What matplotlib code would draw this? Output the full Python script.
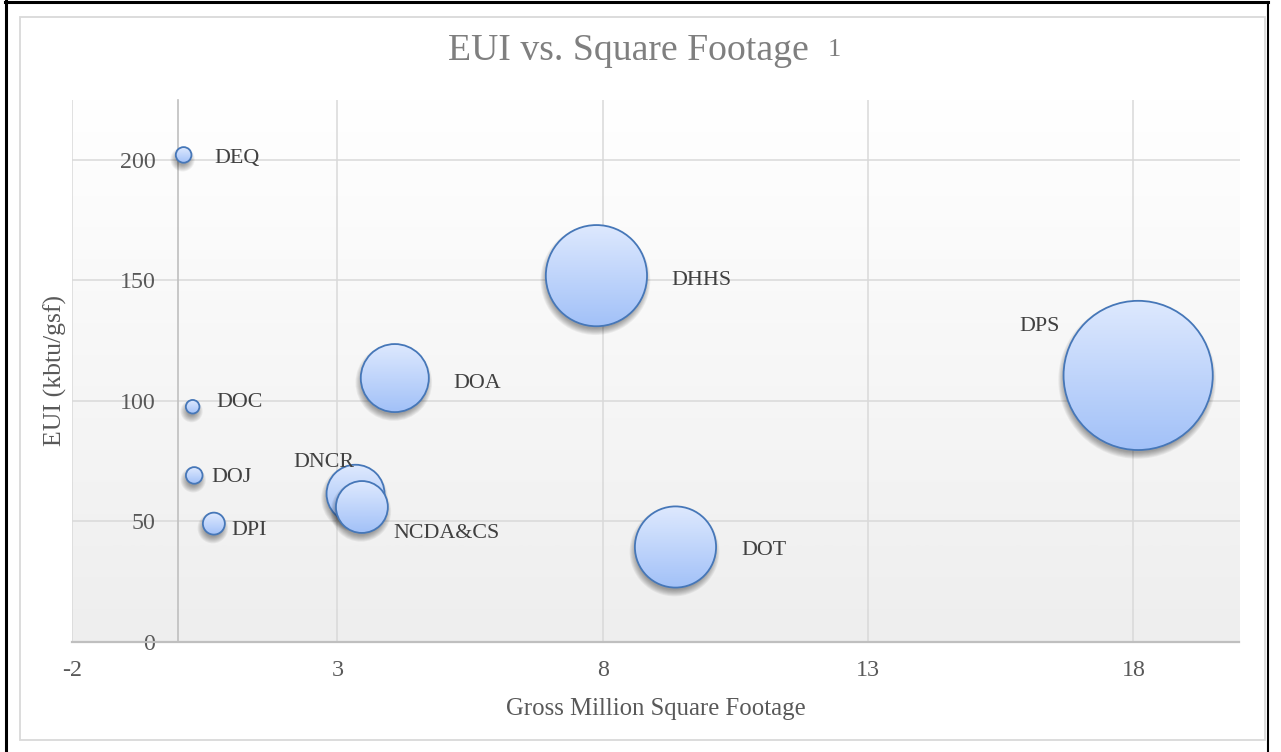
import numpy as np
import matplotlib
matplotlib.use("Agg")
import matplotlib.pyplot as plt
from matplotlib.patches import Ellipse, Rectangle
from matplotlib.lines import Line2D
from matplotlib.colors import LinearSegmentedColormap

# ---------------- data ----------------
agencies = ["DEQ", "DOC", "DOJ", "DPI", "DNCR", "NCDA&CS", "DOA", "DHHS", "DOT", "DPS"]
sq_footage = [0.10, 0.27, 0.30, 0.67, 3.34, 3.46, 4.08, 7.88, 9.37, 18.09]   # million sq ft
eui = [202.0, 97.5, 69.0, 49.0, 61.4, 55.9, 109.4, 151.9, 39.3, 110.5]      # kbtu/gsf
bubble_size = [1.1, 0.83, 1.24, 2.17, 15.1, 12.1, 20.8, 46.0, 29.6, 100.0]
x_ticks = [-2, 3, 8, 13, 18]
y_ticks = [0, 50, 100, 150, 200]

# label placement (pixel offsets from bubble centre, alignment) -- styling only
label_style = {
    "DEQ": (31, -1, "left"),
    "DOC": (23.5, 7, "left"),
    "DOJ": (17.4, 0, "left"),
    "DPI": (17, -4.7, "left"),
    "DNCR": (-1.3, 34, "right"),
    "NCDA&CS": (31.6, -24.3, "left"),
    "DOA": (58.3, -2.5, "left"),
    "DHHS": (75.4, -2, "left"),
    "DOT": (65.4, -0.8, "left"),
    "DPS": (-78.8, 51.3, "right"),
}

plt.rcParams["font.family"] = ["Liberation Serif", "DejaVu Serif"]

W, H, DPI = 1281, 752, 100
fig = plt.figure(figsize=(W / DPI, H / DPI), dpi=DPI)
fig.patch.set_facecolor("white")


def fx(px):
    return px / W


def fy(py):
    return 1 - py / H


L, R, T, B = 72.2, 1239.5, 99.5, 641.7
ax = fig.add_axes([fx(L), fy(B), (R - L) / W, (B - T) / H])
XMIN, XMAX, YMIN, YMAX = -2, 20, 0, 225

# plot area background gradient
bg_cmap = LinearSegmentedColormap.from_list("bg", ["#eeeeee", "#ffffff"])
ax.imshow(np.linspace(0, 1, 256).reshape(-1, 1), extent=[XMIN, XMAX, YMIN, YMAX],
          origin="lower", aspect="auto", cmap=bg_cmap, zorder=-5, interpolation="bicubic")

ax.set_xticks(x_ticks)
ax.set_yticks(y_ticks)
ax.set_xticklabels([str(t) for t in x_ticks])
ax.set_yticklabels([str(t) for t in y_ticks])
ax.set_axisbelow(True)
ax.grid(True, color="#d9d9d9", linewidth=1.1)
for s in ["top", "right"]:
    ax.spines[s].set_visible(False)
ax.spines["left"].set_position(("data", 0))
ax.spines["left"].set_color("#bfbfbf")
ax.spines["left"].set_linewidth(1.2)
ax.spines["bottom"].set_color("#bfbfbf")
ax.spines["bottom"].set_linewidth(1.6)
ax.tick_params(axis="both", length=0, labelsize=17.3, labelcolor="#595959")
ax.tick_params(axis="x", pad=13)
ax.tick_params(axis="y", pad=16.6)

# bubbles
sx = ax.bbox.width / (XMAX - XMIN)
sy = ax.bbox.height / (YMAX - YMIN)
MAX_R = 74.6
smax = max(bubble_size)
bub_cmap = LinearSegmentedColormap.from_list("bub", ["#a2c1f8", "#c0d5fb", "#dee9fe"])
grad = np.linspace(0, 1, 256).reshape(-1, 1)

for i, (name, x, y, s) in enumerate(zip(agencies, sq_footage, eui, bubble_size)):
    r = MAX_R * np.sqrt(s / smax)
    z = 3 + 3 * i
    # soft shadow
    for k in range(8):
        rr = r + 0.9 * k - 2.0
        sh = Ellipse((x - 1.0 / sx, y - 4.5 / sy), 2 * rr / sx, 2 * rr / sy,
                     facecolor="black", edgecolor="none", alpha=0.05, zorder=z)
        ax.add_patch(sh)
    edge = Ellipse((x, y), 2 * r / sx, 2 * r / sy, facecolor="none",
                   edgecolor="#4677b8", linewidth=1.3, zorder=z + 2)
    ax.add_patch(edge)
    im = ax.imshow(grad, extent=[x - r / sx, x + r / sx, y - r / sy, y + r / sy],
                   origin="lower", aspect="auto", cmap=bub_cmap, zorder=z + 1,
                   interpolation="bicubic")
    im.set_clip_path(edge)
    dx, dy, ha = label_style[name]
    ax.annotate(name, (x, y), xytext=(dx, dy - 7.0), textcoords="offset pixels",
                ha=ha, va="baseline", fontsize=15.8, color="#404040", zorder=100)

ax.set_xlim(XMIN, XMAX)
ax.set_ylim(YMIN, YMAX)

# titles
fig.text(fx(448), fy(60), "EUI vs. Square Footage", ha="left", va="baseline",
         fontsize=27.2, color="#7f7f7f")
fig.text(fx(828), fy(56), "1", ha="left", va="baseline", fontsize=19, color="#7f7f7f")
fig.text(fx(656), fy(715), "Gross Million Square Footage", ha="center", va="baseline",
         fontsize=17.8, color="#595959")
fig.text(fx(55), fy(370), "EUI (kbtu/gsf)", ha="center", va="center", rotation=90,
         fontsize=18.5, color="#595959")

# chart frame
fig.add_artist(Rectangle((fx(20), fy(740)), (1265 - 20) / W, (740 - 17) / H,
                         transform=fig.transFigure, fill=False, edgecolor="#d9d9d9",
                         linewidth=1.3))
# black page border
fig.add_artist(Line2D([fx(6), fx(6)], [0, 1], transform=fig.transFigure, color="black", lw=2.2))
fig.add_artist(Line2D([fx(5), fx(1268)], [fy(2), fy(2)], transform=fig.transFigure, color="black", lw=2.2))
fig.add_artist(Line2D([fx(1267.5), fx(1267.5)], [0, fy(2)], transform=fig.transFigure, color="black", lw=1.5))

fig.savefig("out.png", dpi=DPI)
